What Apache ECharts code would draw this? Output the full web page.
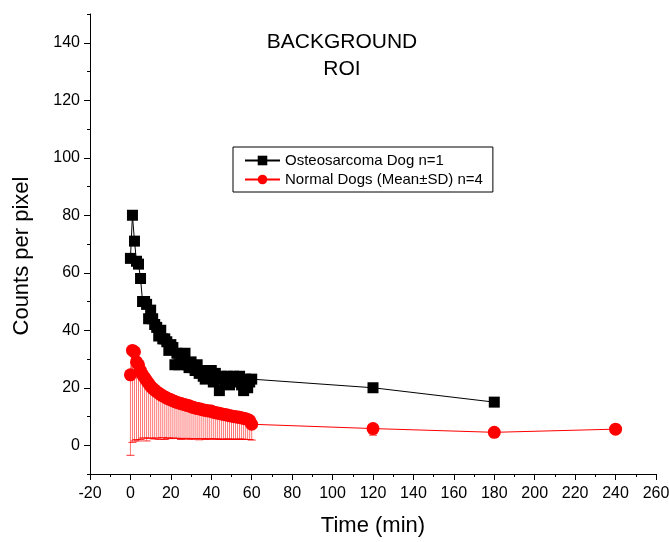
<!DOCTYPE html>
<html>
<head>
<meta charset="utf-8">
<title>Background ROI</title>
<script src="https://cdn.jsdelivr.net/npm/echarts@6/dist/echarts.min.js"></script>
<style>
  html, body { margin: 0; padding: 0; background: #fff; }
  #chart { width: 669px; height: 542px; }
</style>
</head>
<body>
<div id="chart"></div>
<script>
// Sampling times (min) for the dynamic frames, then the late static frames
const framesMin = [0, 1, 2, 3, 4, 5, 6, 7, 8, 9, 10, 11, 12, 13, 14, 15, 16, 17, 18, 19, 20,
  21, 22, 23, 24, 25, 26, 27, 28, 29, 30, 31, 32, 33, 34, 35, 36, 37, 38, 39, 40,
  41, 42, 43, 44, 45, 46, 47, 48, 49, 50, 51, 52, 53, 54, 55, 56, 57, 58, 59, 60];
const osteoLateMin = [120, 180];
const normalLateMin = [120, 180, 240];

// Osteosarcoma dog (n=1), counts per pixel
const osteoCounts = [65, 80, 71, 64, 63, 58, 50, 50, 49, 44, 47, 44, 42, 41, 38, 40, 37, 37, 36, 33, 35,
  34, 28, 32, 28, 31, 30, 32, 28, 27, 29, 27, 26, 28, 25, 26, 24, 23, 26, 24, 26,
  22, 25, 23, 19, 24, 23, 22, 24, 21, 23, 24, 22, 23, 24, 21, 19, 23, 20, 22, 23];
const osteoLateCounts = [20, 15];

// Normal dogs (n=4): mean and standard deviation
const normalMean = [24.5, 33, 32.5, 29, 28, 26, 24.5, 23.5, 22.5, 21.5, 20.5, 19.8, 19.2, 18.6, 18.1, 17.6, 17.2, 16.8, 16.4, 16.1, 15.8,
  15.5, 15.2, 14.9, 14.7, 14.5, 14.3, 14.1, 13.9, 13.7, 13.4, 13.2, 13.0, 12.8, 12.7, 12.5, 12.3, 12.2, 12.0, 11.9, 11.9,
  11.5, 11.4, 11.2, 11.1, 10.9, 10.8, 10.6, 10.5, 10.3, 10.2, 10.0, 9.9, 9.8, 9.7, 9.5, 9.4, 9.2, 9.0, 8.6, 7.3];
const normalSD = [28, 32, 31, 27, 26.5, 24, 22, 21, 21, 19, 18, 17.5, 17, 16, 16, 15.5, 14.5, 14.8, 14, 13.5, 13.5,
  13, 12.8, 12.5, 12.3, 12.5, 12, 11.8, 11.5, 11.6, 11.2, 11, 10.8, 10.5, 10.8, 10.2, 10, 10.2, 9.8, 9.6, 9.8,
  9.3, 9.2, 9.0, 9.1, 8.8, 8.6, 8.6, 8.3, 8.2, 8.1, 7.9, 7.8, 7.8, 7.5, 7.4, 7.3, 7.2, 7.0, 6.6, 5.5];
const normalLateMean = [5.8, 4.5, 5.6];
const normalLateSD = [2.3, 1.7, 0.4];

// Axis ticks
const yMajorTicks = [0, 20, 40, 60, 80, 100, 120, 140];
const yMinorTicks = [-10, 10, 30, 50, 70, 90, 110, 130, 150];

const FONT = 'Arial, "Liberation Sans", sans-serif';

const osteoData = framesMin.map((t, i) => [t, osteoCounts[i]])
  .concat(osteoLateMin.map((t, i) => [t, osteoLateCounts[i]]));
const normalData = framesMin.map((t, i) => [t, normalMean[i], normalSD[i]])
  .concat(normalLateMin.map((t, i) => [t, normalLateMean[i], normalLateSD[i]]));

const chart = echarts.init(document.getElementById('chart'), null, { renderer: 'canvas' });

const axisLineStyle = { show: true, onZero: false, lineStyle: { color: '#000', width: 1 } };

chart.setOption({
  animation: false,
  backgroundColor: '#fff',
  title: {
    text: 'BACKGROUND\nROI',
    left: 337,
    top: 24,
    textAlign: 'center',
    textStyle: { color: '#000', fontSize: 21, fontWeight: 'normal', fontFamily: FONT, lineHeight: 27 }
  },
  legend: {
    orient: 'vertical',
    left: 233,
    top: 147,
    padding: [6, 10, 5, 11],
    itemGap: 4,
    itemWidth: 35,
    itemHeight: 12,
    borderColor: '#000',
    borderWidth: 1,
    textStyle: { color: '#000', fontSize: 15, fontFamily: FONT },
    data: ['Osteosarcoma Dog n=1', 'Normal Dogs (Mean±SD) n=4']
  },
  // vertical axis title, placed a little below the axis midpoint
  graphic: [{
    type: 'text',
    x: 22,
    y: 256,
    rotation: Math.PI / 2,
    style: {
      text: 'Counts per pixel',
      fill: '#000',
      font: '22px ' + FONT,
      textAlign: 'center',
      textVerticalAlign: 'middle'
    }
  }],
  grid: { left: 90, right: 13, top: 14, bottom: 68, containLabel: false, outerBoundsMode: 'none' },
  xAxis: {
    type: 'value',
    min: -20,
    max: 260,
    interval: 20,
    name: 'Time (min)',
    nameLocation: 'middle',
    nameGap: 41,
    nameTextStyle: { color: '#000', fontSize: 22, fontFamily: FONT },
    axisLine: axisLineStyle,
    splitLine: { show: false },
    axisTick: { show: true, inside: false, length: 6, lineStyle: { color: '#000' } },
    minorTick: { show: true, splitNumber: 2, length: 3, lineStyle: { color: '#000' } },
    axisLabel: { color: '#000', fontSize: 16, fontFamily: FONT, margin: 12 }
  },
  yAxis: [
    {
      type: 'value',
      min: -10,
      max: 150,
      axisLine: axisLineStyle,
      splitLine: { show: false },
      axisTick: { show: true, inside: false, length: 6, customValues: yMajorTicks, lineStyle: { color: '#000' } },
      axisLabel: { color: '#000', fontSize: 16, fontFamily: FONT, margin: 10, customValues: yMajorTicks }
    },
    {
      type: 'value',
      min: -10,
      max: 150,
      position: 'left',
      axisLine: { show: false, onZero: false },
      splitLine: { show: false },
      axisTick: { show: true, inside: false, length: 3, customValues: yMinorTicks, lineStyle: { color: '#000' } },
      axisLabel: { show: false, customValues: yMinorTicks }
    }
  ],
  series: [
    {
      // lower standard-deviation bars of the normal dogs
      type: 'custom',
      silent: true,
      z: 1,
      data: normalData,
      encode: { x: 0, y: 1 },
      renderItem: function (params, api) {
        const t = api.value(0);
        const m = api.value(1);
        const sd = api.value(2);
        const top = api.coord([t, m]);
        const bottom = api.coord([t, m - sd]);
        const capHalf = 4;
        return {
          type: 'group',
          children: [
            { type: 'line', shape: { x1: top[0], y1: top[1], x2: bottom[0], y2: bottom[1] },
              style: { stroke: 'rgba(255,0,0,0.55)', lineWidth: 1 } },
            { type: 'line', shape: { x1: bottom[0] - capHalf, y1: bottom[1], x2: bottom[0] + capHalf, y2: bottom[1] },
              style: { stroke: 'rgba(255,0,0,0.8)', lineWidth: 1 } }
          ]
        };
      }
    },
    {
      name: 'Normal Dogs (Mean±SD) n=4',
      type: 'line',
      z: 2,
      data: normalData.map(d => [d[0], d[1]]),
      symbol: 'circle',
      symbolSize: 13,
      itemStyle: { color: '#ff0000' },
      lineStyle: { color: '#ff0000', width: 1 }
    },
    {
      name: 'Osteosarcoma Dog n=1',
      type: 'line',
      z: 3,
      data: osteoData,
      symbol: 'rect',
      symbolSize: 11,
      itemStyle: { color: '#000' },
      lineStyle: { color: '#000', width: 1 }
    }
  ]
});
</script>
</body>
</html>
